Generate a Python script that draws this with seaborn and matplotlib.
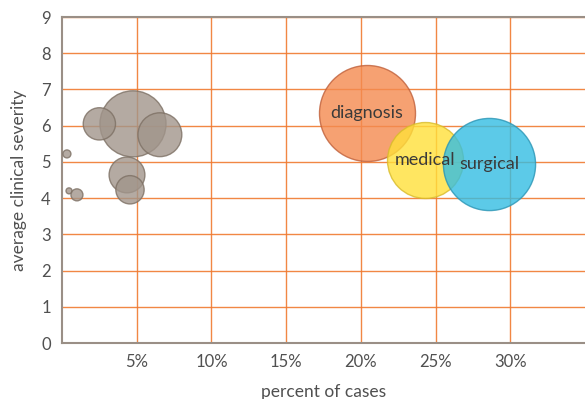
import matplotlib
matplotlib.use("Agg")
import matplotlib.pyplot as plt
import seaborn as sns
import pandas as pd

# data
groups = ["other", "other", "other", "other", "other", "other", "other", "other",
          "diagnosis", "medical", "surgical"]
pct_cases = [4.75, 2.5, 6.55, 4.35, 4.55, 0.33, 0.47, 1.0, 20.4, 24.3, 28.6]
severity = [6.05, 6.05, 5.75, 4.64, 4.23, 5.22, 4.2, 4.09, 6.35, 5.06, 4.94]
volume = [10.9, 2.6, 4.8, 3.2, 2.0, 0.16, 0.09, 0.36, 23.0, 14.4, 21.2]
labels = ["", "", "", "", "", "", "", "", "diagnosis", "medical", "surgical"]

x_ticks = [5, 10, 15, 20, 25, 30]
y_ticks = list(range(10))

palette = {"other": "#a1958b", "diagnosis": "#f48a4f",
           "medical": "#ffe03a", "surgical": "#33bde3"}
edges = {"other": "#7d7064", "diagnosis": "#c0603a",
         "medical": "#d8bb2a", "surgical": "#2a95b5"}

df = pd.DataFrame({"group": groups, "pct": pct_cases, "sev": severity,
                   "vol": volume, "label": labels})

sns.set_theme(style="white")
plt.rcParams["font.family"] = ["Lato", "DejaVu Sans"]
text_col = "#505050"
grid_col = "#f07a30"

fig = plt.figure(figsize=(5.85, 3.99), dpi=100)
ax = fig.add_axes([62 / 585, 56 / 399, 523 / 585, 326 / 399])

ax.set_xlim(0, 35)
ax.set_ylim(0, 9)
ax.set_xticks(x_ticks)
ax.set_xticklabels([f"{t}%" for t in x_ticks])
ax.set_yticks(y_ticks)
ax.grid(True, color=grid_col, linewidth=1.0, alpha=0.9)
ax.set_axisbelow(True)

# max bubble radius 48 px -> area in points^2
max_area = (2 * 48 * 72 / 100) ** 2
for g in palette:
    sub = df[df.group == g]
    sns.scatterplot(data=sub, x="pct", y="sev", size="vol",
                    sizes=(0, max_area), size_norm=(0, max(volume)),
                    color=palette[g], edgecolor=edges[g], linewidth=1.0,
                    alpha=0.8, legend=False, ax=ax, zorder=3)

for _, r in df[df.label != ""].iterrows():
    ax.text(r.pct, r.sev, r.label, ha="center", va="center",
            fontsize=13, color="#3a3a3a", zorder=5)

for s in ["left", "bottom", "top"]:
    ax.spines[s].set_color("#9a8f86")
    ax.spines[s].set_linewidth(1.5)
ax.spines["right"].set_visible(False)

ax.tick_params(axis="both", length=0, labelsize=12, colors=text_col, pad=8)
ax.set_xlabel("percent of cases", fontsize=12.5, color=text_col, labelpad=10)
ax.set_ylabel("average clinical severity", fontsize=12.5, color=text_col, labelpad=10)

fig.savefig("out.png", dpi=100)
